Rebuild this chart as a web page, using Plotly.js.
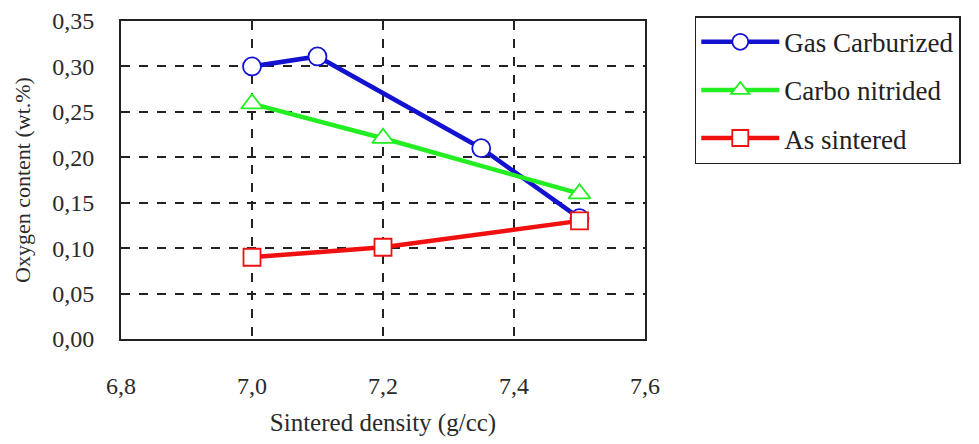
<!DOCTYPE html>
<html><head><meta charset="utf-8">
<script src="https://cdn.plot.ly/plotly-3.0.1.min.js"></script>
<style>html,body{margin:0;padding:0;background:#fff}#chart{width:979px;height:444px}</style>
</head><body><div id="chart"></div>
<script>
const seriesNames = ["Gas Carburized", "Carbo nitrided", "As sintered"];
const gasX = [7.0, 7.1, 7.35, 7.5];
const gasY = [0.30, 0.311, 0.21, 0.133];
const carboX = [7.0, 7.2, 7.5];
const carboY = [0.259, 0.221, 0.16];
const sinterX = [7.0, 7.2, 7.5];
const sinterY = [0.09, 0.101, 0.13];
const xTicks = [6.8, 7.0, 7.2, 7.4, 7.6];
const yTicks = [0, 0.05, 0.10, 0.15, 0.20, 0.25, 0.30, 0.35];

const FONT = "'Liberation Serif', 'Times New Roman', serif";
function tr(x, y, name, color, symbol, size, grp) {
  return {x, y, name, type: "scatter", mode: "lines+markers", legendgroup: grp,
    line: {color, width: 4.5},
    marker: {symbol, size, color: "#ffffff", line: {color, width: 1.8}}};
}
const data = [
  tr(gasX, gasY, seriesNames[0], "#1212d0", "circle", 18, "a"),
  tr(carboX, carboY, seriesNames[1], "#22ee22", "triangle-up", 19, "b"),
  tr(sinterX, sinterY, seriesNames[2], "#f01010", "square", 17, "c")
];
const layout = {
  width: 979, height: 444,
  margin: {l: 121, r: 334, t: 21, b: 105},
  paper_bgcolor: "#fff", plot_bgcolor: "#fff",
  separators: ",.",
  font: {family: FONT, size: 24, color: "#2a2a2a"},
  showlegend: true,
  legend: {x: 1.095, y: 1.015, xanchor: "left", yanchor: "top",
    bordercolor: "#222", borderwidth: 1.5, bgcolor: "#fff",
    font: {family: FONT, size: 27, color: "#222"},
    itemwidth: 78,
    tracegroupgap: 10, traceorder: "grouped"},
  xaxis: {range: [6.8, 7.6], tickvals: xTicks, tickformat: ".1f",
    showline: true, mirror: true, linecolor: "#222", linewidth: 2,
    showgrid: true, gridcolor: "#222", gridwidth: 2, griddash: "dash",
    zeroline: false, ticks: "", ticklabelstandoff: 24,
    title: {text: "Sintered density (g/cc)", standoff: 16, font: {family: FONT, size: 25, color: "#2a2a2a"}}},
  yaxis: {range: [0, 0.35], tickvals: yTicks, tickformat: ".2f",
    showline: true, mirror: true, linecolor: "#222", linewidth: 2,
    showgrid: true, gridcolor: "#222", gridwidth: 2, griddash: "dash",
    zeroline: false, ticks: "", ticklabelstandoff: 20,
    title: {text: "Oxygen content (wt.%)", standoff: 16, font: {family: FONT, size: 22, color: "#2a2a2a"}}}
};
Plotly.newPlot("chart", data, layout, {displayModeBar: false, staticPlot: true});
</script></body></html>
